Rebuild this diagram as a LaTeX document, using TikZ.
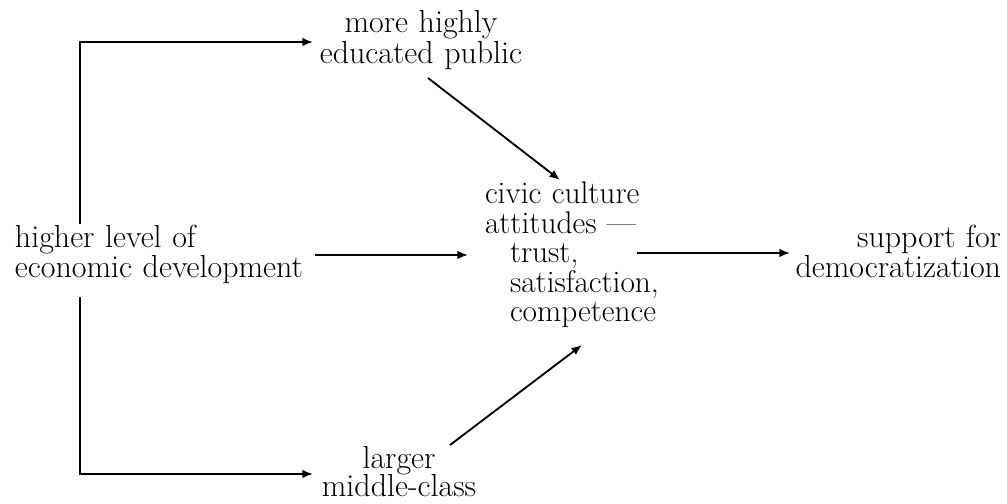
\documentclass[tikz,border=0pt]{standalone}
\usetikzlibrary{arrows.meta}
\setlength{\lineskiplimit}{-20pt}
\begin{document}
\begin{tikzpicture}[x=0.025cm,y=-0.025cm,
  lbl/.style={inner sep=0pt, outer sep=0pt, text width=8cm},
  arr/.style={line width=1.3pt, -{Latex[length=7.5pt,width=6pt]}},
  ln/.style={line width=1.3pt}]
\useasboundingbox (0,0) rectangle (1007,504);
% nodes
\node[lbl, anchor=base, align=center, font=\fontsize{22.7}{22}\selectfont] (edu) at (421,33)
  {more highly\\educated public};
\node[lbl, anchor=base west, align=left, font=\fontsize{22.7}{19.2}\selectfont] (econ) at (15,247.7)
  {higher level of\\economic development};
\node[lbl, anchor=base west, align=left, font=\fontsize{22.3}{20.9}\selectfont] (civic) at (485,204)
  {civic culture\\attitudes ---\\\hspace*{0.625cm}trust,\\\hspace*{0.625cm}satisfaction,\\\hspace*{0.625cm}competence};
\node[lbl, anchor=base east, align=right, font=\fontsize{22.7}{19.2}\selectfont] (supp) at (1001,248)
  {support for\\democratization};
\node[lbl, anchor=base, align=center, font=\fontsize{22.7}{20.6}\selectfont] (mid) at (399,468)
  {larger\\middle-class};
% connector end points
\coordinate (econTop) at (80,224);
\coordinate (econBot) at (80,297);
\coordinate (cornerTop) at (80,42);
\coordinate (cornerBot) at (80,474);
\coordinate (eduIn) at (313,42);
\coordinate (midIn) at (313,474);
\coordinate (econOut) at (315,255);
\coordinate (civicIn) at (468,255);
\coordinate (eduOut) at (428,78);
\coordinate (civicTop) at (560,180);
\coordinate (midOut) at (450,445);
\coordinate (civicBot) at (582,345);
\coordinate (civicOut) at (637,253);
\coordinate (suppIn) at (790,253);
% connectors
\draw[arr] (econTop) -- (cornerTop) -- (eduIn);
\draw[arr] (econBot) -- (cornerBot) -- (midIn);
\draw[arr] (econOut) -- (civicIn);
\draw[arr] (eduOut) -- (civicTop);
\draw[arr] (midOut) -- (civicBot);
\draw[arr] (civicOut) -- (suppIn);
\end{tikzpicture}
\end{document}
